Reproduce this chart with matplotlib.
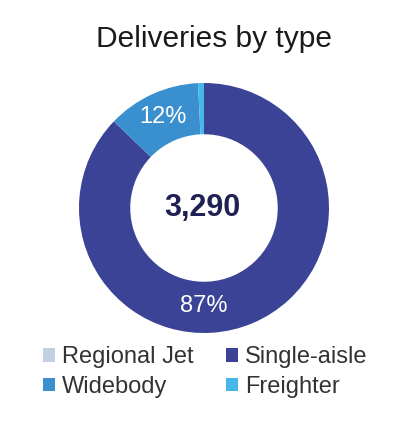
import matplotlib.pyplot as plt
from matplotlib.patches import Patch

plt.rcParams['font.family'] = ['Liberation Sans', 'DejaVu Sans']

labels = ['Regional Jet', 'Single-aisle', 'Widebody', 'Freighter']
values = [0, 2868, 397, 25]
colors = ['#c3d0e4', '#3a4396', '#3a8fcf', '#45b8e8']
total_text = '3,290'

W, H = 400, 433
fig = plt.figure(figsize=(W / 100, H / 100), dpi=100)

# donut: center (204, 208) px, radius 125 px
cx, cy, r = 204, 208, 125
ax = fig.add_axes([(cx - r) / W, (H - cy - r) / H, 2 * r / W, 2 * r / H])

def pct_fmt(p):
    return '%d%%' % round(p) if p > 5 else ''

wedges, texts, autotexts = ax.pie(values, colors=colors, startangle=90, counterclock=False,
                                  radius=1, wedgeprops=dict(width=0.41, linewidth=0),
                                  autopct=pct_fmt, pctdistance=0.8,
                                  textprops=dict(color='white', fontsize=17))
# the big slice's label sits at the bottom of the ring
autotexts[1].set_position((0, -0.78))
ax.set_xlim(-1, 1)
ax.set_ylim(-1, 1)
ax.text(-0.01, 0.0, total_text, ha='center', va='center', fontsize=22, fontweight='bold', color='#1f2152')

fig.text(214 / W, 1 - 39 / H, 'Deliveries by type', ha='center', va='center', fontsize=21.5, color='#1a1a1a')

handles = [Patch(facecolor=c, edgecolor='none') for c in colors]
# legend ordered by rows: Regional Jet, Single-aisle / Widebody, Freighter
order = [0, 2, 1, 3]
leg = fig.legend([handles[i] for i in order], [labels[i] for i in order], ncol=2,
                 loc='upper left', bbox_to_anchor=(43 / W, 1 - 346 / H), frameon=False,
                 fontsize=17, handlelength=0.52, handleheight=0.52, handletextpad=0.3,
                 columnspacing=1.35, labelspacing=0.33, borderaxespad=0, borderpad=0)
for t in leg.get_texts():
    t.set_color('#333333')

fig.savefig('out.png', dpi=100)
